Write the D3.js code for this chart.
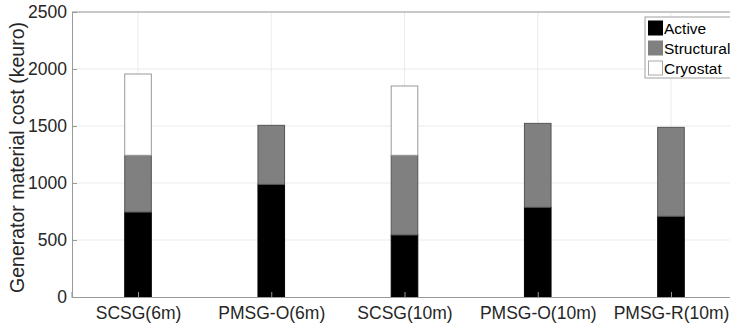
<!DOCTYPE html>
<html><head><meta charset="utf-8">
<script src="https://cdn.jsdelivr.net/npm/d3@7"></script>
<style>body{margin:0;background:#fff;} svg{display:block;font-family:"Liberation Sans",Arial,sans-serif;}</style>
</head><body><svg id="c" width="730" height="328"></svg>
<script>
const categories = ["SCSG(6m)","PMSG-O(6m)","SCSG(10m)","PMSG-O(10m)","PMSG-R(10m)"];
const seriesNames = ["Active","Structural","Cryostat"];
const active = [745, 988, 544, 787, 708];
const structural = [498, 518, 699, 736, 780];
const cryostat = [713, 0, 608, 0, 0];
const yTicks = [0,500,1000,1500,2000,2500];
const colors = ["#000000","#808080","#ffffff"];
const strokes = ["#000000","#555555","#999999"];

(function(){
const svg = d3.select("#c");
const mLeft = 72, mTop = 12, mBottom = 297;
const x = d3.scaleLinear().domain([0.5, 5.5]).range([71.4, 737.6]);
const y = d3.scaleLinear().domain([0, 2500]).range([mBottom, mTop]);
const textColor = "#262626";
const ff = "Liberation Sans, Arial, sans-serif";

// grid
svg.append("g").selectAll("line").data(yTicks.slice(1)).join("line")
  .attr("x1", mLeft).attr("x2", 730).attr("y1", d=>y(d)).attr("y2", d=>y(d))
  .attr("stroke", "#ebebeb").attr("stroke-width", 1);
svg.append("g").selectAll("line").data(categories).join("line")
  .attr("x1", (d,i)=>x(i+1)).attr("x2", (d,i)=>x(i+1)).attr("y1", mTop).attr("y2", mBottom)
  .attr("stroke", "#ebebeb").attr("stroke-width", 1);

// stacked bars
const rows = categories.map((c,i)=>({cat:c, idx:i, Active:active[i], Structural:structural[i], Cryostat:cryostat[i]}));
const stack = d3.stack().keys(seriesNames)(rows);
const bw = 26.6;
stack.forEach((layer, k) => {
  svg.append("g").selectAll("rect").data(layer.filter(d=>d[1]-d[0] > 0)).join("rect")
    .attr("x", d => x(d.data.idx+1) - bw/2)
    .attr("y", d => y(d[1]))
    .attr("width", bw)
    .attr("height", d => y(d[0]) - y(d[1]))
    .attr("fill", colors[k])
    .attr("stroke", strokes[k]).attr("stroke-width", 1);
});

// axes
const yAxis = d3.axisLeft(y).tickValues(yTicks).tickFormat(d3.format("d")).tickSize(-5).tickPadding(5);
const gy = svg.append("g").attr("transform", `translate(${mLeft},0)`).call(yAxis);
gy.select(".domain").attr("stroke", "#9a9a9a");
gy.selectAll(".tick line").attr("stroke", "#9a9a9a");
gy.selectAll("text").attr("fill", textColor).attr("font-size", 17.5).attr("font-family", ff);

const xAxis = d3.axisBottom(x).tickValues([1,2,3,4,5]).tickFormat((d)=>categories[d-1]).tickSize(-5).tickPadding(10);
const gx = svg.append("g").attr("transform", `translate(0,${mBottom})`).call(xAxis);
gx.select(".domain").attr("stroke", "#9a9a9a");
gx.selectAll(".tick line").attr("stroke", "#9a9a9a");
gx.selectAll("text").attr("fill", textColor).attr("font-size", 17.5).attr("font-family", ff);

// top border
svg.append("line").attr("x1", mLeft).attr("x2", 730).attr("y1", mTop).attr("y2", mTop).attr("stroke", "#9a9a9a");

// y label
svg.append("text").attr("transform", `translate(24,${(mTop+mBottom)/2 + 3}) rotate(-90)`)
  .attr("text-anchor", "middle").attr("fill", textColor).attr("font-size", 19.5).attr("font-family", ff)
  .text("Generator material cost (keuro)");

// legend
const lg = svg.append("g").attr("transform", "translate(645,17)");
lg.append("rect").attr("x", 0).attr("y", 0).attr("width", 100).attr("height", 61)
  .attr("fill", "#fff").attr("stroke", "#a0a0a0");
seriesNames.forEach((s,k) => {
  const yy = 11 + k*20;
  lg.append("rect").attr("x", 3.5).attr("y", yy - 7).attr("width", 14).attr("height", 14)
    .attr("fill", colors[k]).attr("stroke", k===2 ? "#aaaaaa" : colors[k]);
  lg.append("text").attr("x", 19).attr("y", yy + 5.5).attr("font-size", 15.5).attr("font-family", ff).attr("fill", "#000").text(s);
});
})();
</script></body></html>
